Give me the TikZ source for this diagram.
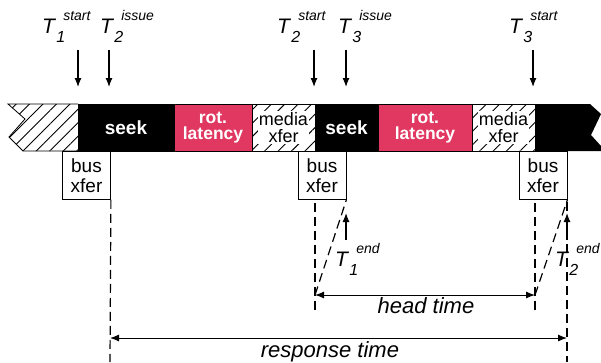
\documentclass[tikz,border=0pt]{standalone}
\usepackage{fontspec}
\setmainfont{Liberation Sans}
\usetikzlibrary{arrows.meta,patterns.meta}
\definecolor{rotred}{RGB}{224,56,96}
\newcommand\tlab[2]{\fontsize{21}{21}\selectfont\textit{T}\rlap{\raisebox{-9pt}{\fontsize{16}{16}\selectfont\textit{#1}}}\kern7pt\raisebox{13pt}{\fontsize{14}{14}\selectfont\textit{#2}}}
\tikzset{
  hatch/.style={pattern={Lines[angle=45,distance=9.5pt,line width=0.9pt]}},
  segbox/.style={draw=black, line width=0.8pt, minimum height=47pt, inner sep=0pt},
  seekseg/.style={segbox, fill=black, text=white, font=\bfseries\fontsize{19}{19}\selectfont},
  rotseg/.style={segbox, fill=rotred, text=white, align=center, font=\bfseries\fontsize{17.5}{16}\selectfont},
  mediaseg/.style={segbox, hatch},
  medialabel/.style={fill=white, inner sep=1pt, align=center, font=\fontsize{18}{17}\selectfont},
  busbox/.style={draw, fill=white, line width=0.8pt, align=center, anchor=north, minimum width=48pt, minimum height=48pt, inner sep=0pt, font=\fontsize{19}{20}\selectfont},
  tname/.style={anchor=base west, inner sep=0pt},
  timearrow/.style={-{Latex[length=9pt,width=7pt]}, line width=1.2pt},
  spanarrow/.style={{Latex[length=9pt,width=7pt]}-{Latex[length=9pt,width=7pt]}, line width=1pt},
  spanlabel/.style={anchor=base, inner sep=0pt, font=\itshape\fontsize{22}{22}\selectfont},
  guideline/.style={dash pattern=on 9pt off 5pt, line width=1.2pt},
}
\begin{document}
\begin{tikzpicture}[x=1pt,y=-1pt]
\useasboundingbox (0,0) rectangle (601,362);
\def\seg#1#2#3#4#5{
\node[#4, minimum width={(#3-#2)*1pt}] (#1) at ({(#2+#3)/2},127.5) {#5};
}
\def\tstamp#1#2#3#4#5{
\node[tname] (#1) at (#2,33) {\tlab{#3}{#4}};
\coordinate (#1-a) at (#5,50);
\draw[timearrow] (#1-a) -- ++(0,37);
}
% time line
\draw[line width=0.8pt, hatch] (78,104) -- (8,104) -- (25,119) -- (9,137) -- (23,151) -- (78,151);
\fill (535,104) -- (590,104) -- (601,114) -- (591,135) -- (601,146) -- (601,151) -- (535,151) -- cycle;
\seg{seek1}{78}{174}{seekseg}{seek}
\seg{rot1}{174}{252}{rotseg}{rot.\\latency}
\seg{media1}{252}{315}{mediaseg}{}
\seg{seek2}{315}{378}{seekseg}{seek}
\seg{rot2}{378}{472}{rotseg}{rot.\\latency}
\seg{media2}{472}{535}{mediaseg}{}
\node[medialabel] (mx1) at (media1) {media\\xfer};
\node[medialabel] (mx2) at (media2) {media\\xfer};
% bus transfers
\node[busbox] (bus1) at (86.5,151) {bus\\xfer};
\node[busbox] (bus2) at (322,151) {bus\\xfer};
\node[busbox] (bus3) at (543,151) {bus\\xfer};
% request times
\tstamp{t1s}{42}{1}{start}{78}
\tstamp{t2i}{100}{2}{issue}{109}
\tstamp{t2s}{277}{2}{start}{314}
\tstamp{t3i}{338}{3}{issue}{346}
\tstamp{t3s}{509}{3}{start}{533}
\node[tname] (t1e) at (335,266) {\tlab{1}{end}};
\node[tname] (t2e) at (555,266) {\tlab{2}{end}};
\coordinate (t1e-a) at (346,240);
\coordinate (t2e-a) at (567,240);
\draw[timearrow] (t1e-a) -- ++(0,-27);
\draw[timearrow] (t2e-a) -- ++(0,-27);
% spans
\coordinate (ht-l) at (315,295);
\coordinate (ht-r) at (535,295);
\coordinate (rt-l) at (110,338);
\coordinate (rt-r) at (567,338);
\draw[guideline] (bus1.south east) -- (110,362);
\draw[guideline] (315,203) -- (315,310);
\draw[guideline] (535,203) -- (535,310);
\draw[guideline] (567,202) -- (567,362);
\draw[guideline] (ht-l) -- (bus2.south east);
\draw[guideline] (ht-r) -- (bus3.south east);
\draw[spanarrow] (ht-l) -- (ht-r);
\draw[spanarrow] (rt-l) -- (rt-r);
\node[spanlabel] (ht) at (426,313) {head time};
\node[spanlabel] (rt) at (330,357) {response time};
\end{tikzpicture}
\end{document}
